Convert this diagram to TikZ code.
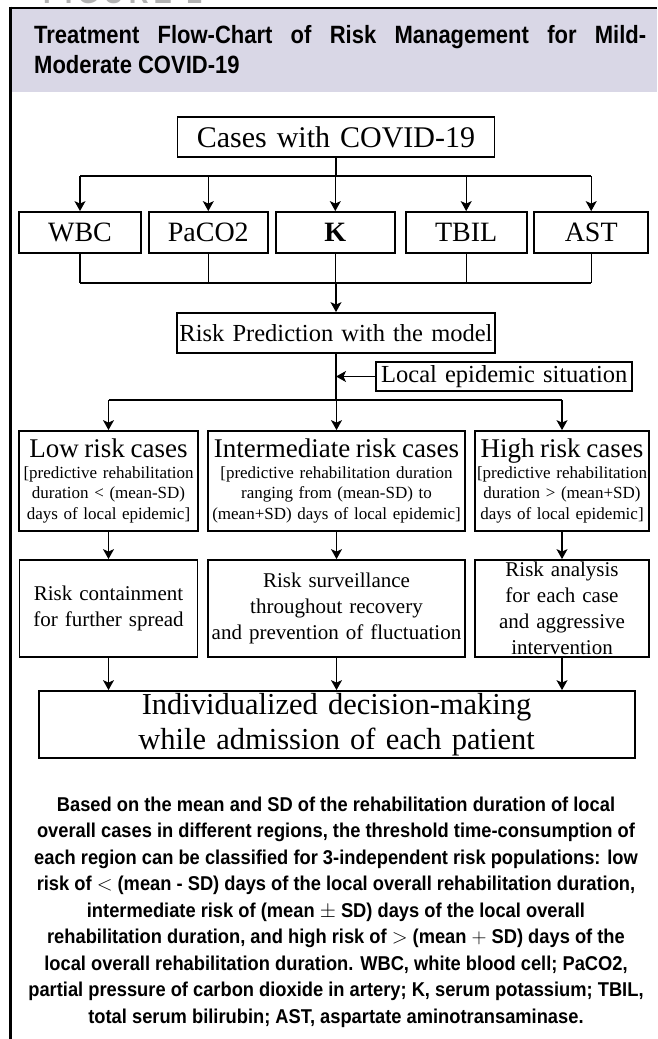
\documentclass[tikz,border=0pt]{standalone}
\usepackage{fontspec}
\setmainfont{Liberation Serif}
\newfontfamily\capfont[FakeStretch=0.915]{Liberation Sans}
\newfontfamily\headfont[FakeStretch=0.88]{Liberation Sans}
\usetikzlibrary{arrows.meta, positioning}
\definecolor{bandcol}{HTML}{D9D7E6}

% sizes of the box texts
\newcommand\boxhuge{\fontsize{30.5}{35}\selectfont}
\newcommand\boxbig{\fontsize{30}{34}\selectfont}
\newcommand\boxmark{\fontsize{28}{32}\selectfont}
\newcommand\boxmid{\fontsize{24.5}{28}\selectfont}
\newcommand\boxrow{\fontsize{21}{25.8}\selectfont}
\newcommand\boxsmall{\fontsize{17}{20.8}\selectfont}
\newcommand\boxhead{\fontsize{27}{27}\selectfont}

\tikzset{
  box/.style={draw, line width=1.8pt, inner xsep=0pt, inner ysep=0pt, align=center},
  arr/.style={-{Stealth[length=10pt, width=11pt, inset=2.5pt]}, line width=1.3pt},
  link/.style={line width=1.3pt},
}

\begin{document}
\begin{tikzpicture}[x=1pt, y=-1pt]
  \useasboundingbox (0,0) rectangle (657,1039);

  % cut off heading above the frame
  \begin{scope}
    \clip (0,0) rectangle (657,1039);
    \node[anchor=base west, inner sep=0pt, text=black!30, font=\capfont\bfseries\fontsize{30}{30}\selectfont] (fig) at (43,3) {F\,I\,G\,U\,R\,E\ \ 2};
  \end{scope}

  % frame and title strip
  \fill[bandcol] (11,8) rectangle (657,92);
  \draw[line width=2pt] (10,7.5) -- (657,7.5);
  \draw[line width=3pt] (10,6.5) -- (10,1039);
  \node[anchor=north west, text width=612, inner sep=0pt, align=justify,
        font=\headfont\bfseries\fontsize{25}{30}\selectfont] (title) at (34,24.8)
    {Treatment Flow-Chart of Risk Management for Mild-\linebreak Moderate COVID-19};

  % cases and the five markers
  \node[box, text width=317, minimum height=40, font=\boxbig] (cases) at (336,137) {Cases with COVID-19};
  \node[box, text width=122, minimum height=41, font=\boxmark] (wbc) at (80,232.5) {WBC};
  \node[box, text width=119, minimum height=41, font=\boxmark] (paco) at (208.3,232.5) {PaCO2};
  \node[box, text width=119, minimum height=41, font=\boxmark] (kval) at (335.3,232.5) {\textbf{K}};
  \node[box, text width=121, minimum height=41, font=\boxmark] (tbil) at (466.2,232.5) {TBIL};
  \node[box, text width=114, minimum height=41, font=\boxmark] (ast) at (591.2,232.5) {AST};

  % prediction
  \node[box, text width=318, minimum height=40, font=\boxmid] (pred) at (336,333) {Risk Prediction with the model};
  \node[box, text width=256, minimum height=29, font=\boxmid] (local) at (504.3,376.5) {Local epidemic situation};

  % risk groups
  \node[box, text width=179, minimum height=100, font=\boxsmall] (risklow) at (108.5,481)
    {{\boxhead Low risk cases}\\{[}predictive rehabilitation\\duration < (mean-SD)\\days of local epidemic]};
  \node[box, text width=257, minimum height=100, font=\boxsmall] (riskmid) at (336.5,481)
    {{\boxhead Intermediate risk cases}\\{[}predictive rehabilitation duration\\ranging from (mean-SD) to\\(mean+SD) days of local epidemic]};
  \node[box, text width=174, minimum height=100, font=\boxsmall] (riskhigh) at (562,481)
    {{\boxhead High risk cases}\\{[}predictive rehabilitation\\duration > (mean+SD)\\days of local epidemic]};

  % actions
  \node[box, text width=178, minimum height=97, font=\boxrow] (actlow) at (108.5,608.5)
    {Risk containment\\for further spread};
  \node[box, text width=257, minimum height=97, font=\boxrow] (actmid) at (336.5,608.5)
    {Risk surveillance\\throughout recovery\\and prevention of fluctuation};
  \node[box, text width=174, minimum height=97, font=\boxrow] (acthigh) at (562,608.5)
    {Risk analysis\\for each case\\and aggressive\\intervention};

  \node[box, text width=596, minimum height=67, font=\boxhuge] (final) at (336.6,724.5)
    {Individualized decision-making\\while admission of each patient};

  % connectors
  \coordinate (fanA) at (336,176);
  \coordinate (fanB) at (336,283);
  \coordinate (fork) at (336,400);
  \draw[link] (cases.south) -- (fanA);
  \draw[link] (wbc.north |- fanA) -- (ast.north |- fanA);
  \foreach \n in {wbc,paco,kval,tbil,ast} {
    \draw[arr] (\n.north |- fanA) -- (\n.north);
    \draw[link] (\n.south) -- (\n.south |- fanB);
  }
  \draw[link] (wbc.south |- fanB) -- (ast.south |- fanB);
  \draw[arr] (fanB) -- (pred.north);
  \draw[link] (pred.south) -- (fork);
  \draw[arr] (local.west) -- (local.west -| pred.south);
  \draw[link] (risklow.north |- fork) -- (riskhigh.north |- fork);
  \foreach \n in {low,mid,high} {
    \draw[arr] (risk\n.north |- fork) -- (risk\n.north);
    \draw[arr] (risk\n.south) -- (act\n.north);
    \draw[arr] (act\n.south) -- (act\n.south |- final.north);
  }

  % legend text
  \node[anchor=north, inner sep=0pt, align=center,
        font=\capfont\bfseries\fontsize{20}{26.5}\selectfont] (note) at (336,796.5)
    {Based on the mean and SD of the rehabilitation duration of local\\
     overall cases in different regions, the threshold time-consumption of\\
     each region can be classified for 3-independent risk populations: low\\
     risk of $<$ (mean - SD) days of the local overall rehabilitation duration,\\
     intermediate risk of (mean $\pm$ SD) days of the local overall\\
     rehabilitation duration, and high risk of $>$ (mean $+$ SD) days of the\\
     local overall rehabilitation duration. WBC, white blood cell; PaCO2,\\
     partial pressure of carbon dioxide in artery; K, serum potassium; TBIL,\\
     total serum bilirubin; AST, aspartate aminotransaminase.};
\end{tikzpicture}
\end{document}
